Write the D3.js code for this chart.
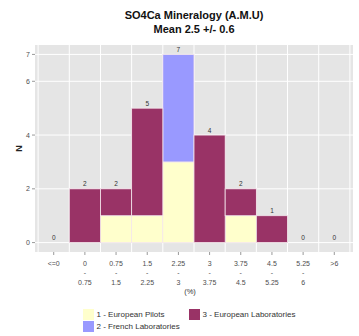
<!DOCTYPE html>
<html>
<head>
<meta charset="utf-8">
<script src="https://cdn.jsdelivr.net/npm/d3@7/dist/d3.min.js"></script>
<style>
  html, body { margin: 0; padding: 0; background: #fff; }
  svg { display: block; font-family: "Liberation Sans", Arial, sans-serif; }
</style>
</head>
<body>
<svg id="chart" width="359" height="336"></svg>
<script>
// Histogram bins (%), upper and lower label lines
const binTop    = ["<=0", "0", "0.75", "1.5", "2.25", "3", "3.75", "4.5", "5.25", ">6"];
const binBottom = ["", "0.75", "1.5", "2.25", "3", "3.75", "4.5", "5.25", "6", ""];

// Counts per bin for each group
const europeanPilots = [0, 0, 1, 1, 3, 0, 1, 0, 0, 0];
const frenchLabs     = [0, 0, 0, 0, 4, 0, 0, 0, 0, 0];
const europeanLabs   = [0, 2, 1, 4, 0, 4, 1, 1, 0, 0];

const yTicks = [0, 2, 4, 6, 7];

const groups = [
  { key: "1 - European Pilots", values: europeanPilots, color: "#FFFFCC" },
  { key: "2 - French Laboratories", values: frenchLabs, color: "#9999FF" },
  { key: "3 - European Laboratories", values: europeanLabs, color: "#993366" }
];

const svg = d3.select("#chart");
const panel = { left: 35, right: 353, top: 45, bottom: 252 };

const x = d3.scaleBand()
  .domain(d3.range(binTop.length))
  .range([panel.left, panel.right])
  .paddingInner(0)
  .paddingOuter(0.1);

const y = d3.scaleLinear()
  .domain([-0.35, 7.35])
  .range([panel.bottom, panel.top]);

// Panel background
svg.append("rect")
  .attr("x", panel.left).attr("y", panel.top)
  .attr("width", panel.right - panel.left)
  .attr("height", panel.bottom - panel.top)
  .attr("fill", "#E5E5E5");

// Grid lines: horizontal at y ticks, vertical at bin boundaries
svg.append("g").selectAll("line").data(yTicks).join("line")
  .attr("x1", panel.left).attr("x2", panel.right)
  .attr("y1", d => y(d)).attr("y2", d => y(d))
  .attr("stroke", "#fff").attr("stroke-width", 1);

const edges = d3.range(binTop.length + 1).map(i => x(0) + i * x.step());
svg.append("g").selectAll("line").data(edges).join("line")
  .attr("x1", d => d).attr("x2", d => d)
  .attr("y1", panel.top).attr("y2", panel.bottom)
  .attr("stroke", "#fff").attr("stroke-width", 1);

// Stacked bars
const stackData = binTop.map((_, i) => {
  const row = { i };
  groups.forEach(g => row[g.key] = g.values[i]);
  return row;
});
const series = d3.stack().keys(groups.map(g => g.key))(stackData);

svg.append("g").selectAll("g").data(series).join("g")
  .attr("fill", (s, k) => groups[k].color)
  .selectAll("rect")
  .data(s => s.filter(d => d[1] - d[0] > 0))
  .join("rect")
  .attr("x", d => x(d.data.i))
  .attr("width", x.bandwidth())
  .attr("y", d => y(d[1]))
  .attr("height", d => y(d[0]) - y(d[1]))
  .attr("stroke", "#F4E6EC")
  .attr("stroke-width", 0.8);

// Count labels above each bin
const totals = binTop.map((_, i) => d3.sum(groups, g => g.values[i]));
svg.append("g").selectAll("text").data(totals).join("text")
  .attr("x", (d, i) => x(i) + x.bandwidth() / 2)
  .attr("y", d => y(d) - 2.5)
  .attr("text-anchor", "middle")
  .attr("font-size", 6.5)
  .attr("fill", "#333")
  .text(d => d);

// Y axis
const yAxis = svg.append("g");
yAxis.selectAll("line").data(yTicks).join("line")
  .attr("x1", panel.left - 3).attr("x2", panel.left)
  .attr("y1", d => y(d)).attr("y2", d => y(d))
  .attr("stroke", "#7F7F7F").attr("stroke-width", 0.8);
yAxis.selectAll("text").data(yTicks).join("text")
  .attr("x", panel.left - 5)
  .attr("y", d => y(d))
  .attr("dy", "0.35em")
  .attr("text-anchor", "end")
  .attr("font-size", 7)
  .attr("fill", "#4D4D4D")
  .text(d => d);

svg.append("text")
  .attr("transform", `translate(22,${(panel.top + panel.bottom) / 2}) rotate(-90)`)
  .attr("text-anchor", "middle")
  .attr("font-size", 9)
  .attr("font-weight", "bold")
  .attr("fill", "#222")
  .text("N");

// X axis
const xAxis = svg.append("g");
xAxis.selectAll("line").data(binTop).join("line")
  .attr("x1", (d, i) => x(i) + x.bandwidth() / 2)
  .attr("x2", (d, i) => x(i) + x.bandwidth() / 2)
  .attr("y1", panel.bottom).attr("y2", panel.bottom + 3)
  .attr("stroke", "#7F7F7F").attr("stroke-width", 0.8);

const tickLabels = xAxis.selectAll("g.tick").data(binTop).join("g")
  .attr("class", "tick")
  .attr("transform", (d, i) => `translate(${x(i) + x.bandwidth() / 2},0)`)
  .attr("font-size", 7)
  .attr("fill", "#4D4D4D")
  .attr("text-anchor", "middle");
tickLabels.append("text").attr("y", 265.5).text(d => d);
tickLabels.append("text").attr("y", 274.5).text((d, i) => binBottom[i] ? "-" : "");
tickLabels.append("text").attr("y", 284.5).text((d, i) => binBottom[i]);

svg.append("text")
  .attr("x", 190).attr("y", 293.5)
  .attr("text-anchor", "middle")
  .attr("font-size", 7.5)
  .attr("fill", "#333")
  .text("(%)");

// Title
const title = svg.append("g")
  .attr("text-anchor", "middle")
  .attr("font-size", 11)
  .attr("font-weight", "bold")
  .attr("fill", "#111");
title.append("text").attr("x", 194).attr("y", 18.5).text("SO4Ca Mineralogy (A.M.U)");
title.append("text").attr("x", 194).attr("y", 32.5).text("Mean 2.5 +/- 0.6");

// Legend (column-wise: two rows in the first column, one in the second)
const legendPos = [
  { kx: 83, ty: 314.5 },
  { kx: 83, ty: 326.5 },
  { kx: 189, ty: 314.5 }
];
const legend = svg.append("g").selectAll("g").data(groups).join("g")
  .attr("transform", (d, i) => `translate(${legendPos[i].kx},${legendPos[i].ty})`);
legend.append("rect")
  .attr("x", 0).attr("y", -5.5)
  .attr("width", 11).attr("height", 11)
  .attr("fill", d => d.color);
legend.append("text")
  .attr("x", 13.5).attr("dy", "0.35em")
  .attr("font-size", 8)
  .attr("fill", "#333")
  .text(d => d.key);
</script>
</body>
</html>
